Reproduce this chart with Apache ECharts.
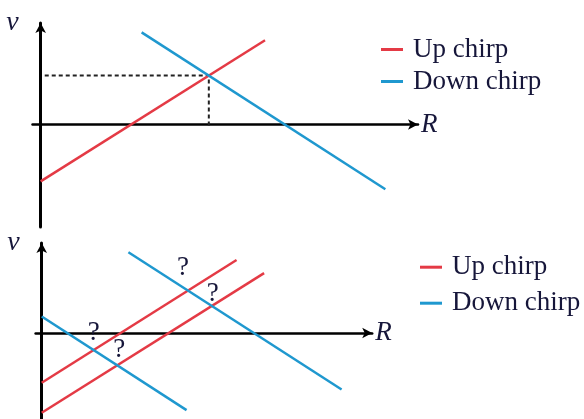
<!DOCTYPE html>
<html>
<head>
<meta charset="utf-8">
<script src="https://cdn.jsdelivr.net/npm/echarts@6/dist/echarts.min.js"></script>
<style>
  html, body { margin: 0; padding: 0; background: #fff; }
  #chart { width: 584px; height: 419px; }
</style>
</head>
<body>
<div id="chart"></div>
<script>
// Range–velocity sketch: one target (top) and two targets (bottom), FMCW up/down chirps.
const seriesNames = ['Up chirp', 'Down chirp'];

// Top panel: a single target
const upTop = [[0, -2.8], [11, 4.15]];
const downTop = [[4.95, 4.54], [16.9, -3.19]];

// Bottom panel: two targets -> two lines per chirp
const upBottomA = [[0, -2.46], [9.55, 3.61]];
const upBottomB = [[0, -3.94], [10.9, 2.96]];
const downBottomA = [[0, 0.82], [7.1, -3.81]];
const downBottomB = [[4.25, 3.99], [14.7, -2.79]];

const axisNames = { x: 'R', y: 'v' };
const ghostMark = '?';

const RED = '#e43a45';
const BLUE = '#1f98cf';
const INK = '#16163a';
const SERIF = '"Liberation Serif", "Times New Roman", serif';

// intersection of two straight segments (as infinite lines)
function cross(a, b) {
  const s1 = (a[1][1] - a[0][1]) / (a[1][0] - a[0][0]);
  const s2 = (b[1][1] - b[0][1]) / (b[1][0] - b[0][0]);
  const c1 = a[0][1] - s1 * a[0][0];
  const c2 = b[0][1] - s2 * b[0][0];
  const x = (c2 - c1) / (s1 - s2);
  return [x, s1 * x + c1];
}

function xAxisFor(gridIndex, min, max) {
  return {
    type: 'value', gridIndex, min, max,
    name: axisNames.x, nameLocation: 'end', nameGap: 3,
    nameTextStyle: { fontFamily: SERIF, fontStyle: 'italic', fontSize: 27, color: INK, padding: [7, 0, 0, 0] },
    axisLine: { show: true, onZero: true, lineStyle: { color: '#000', width: 2.5 }, symbol: ['none', 'arrow'], symbolSize: [8, 10] },
    axisTick: { show: false }, axisLabel: { show: false }, splitLine: { show: false }
  };
}
function yAxisFor(gridIndex, min, max, lift) {
  return {
    type: 'value', gridIndex, min, max,
    name: axisNames.y, nameLocation: 'end', nameGap: 0,
    nameTextStyle: { fontFamily: SERIF, fontStyle: 'italic', fontSize: 28, color: INK, align: 'right', verticalAlign: 'middle', padding: [0, 22, lift, 0] },
    axisLine: { show: true, onZero: true, lineStyle: { color: '#000', width: 3 }, symbol: ['none', 'arrow'], symbolSize: [8, 10] },
    axisTick: { show: false }, axisLabel: { show: false }, splitLine: { show: false }
  };
}
function chirp(name, data, color, idx) {
  return {
    type: 'line', name, data, xAxisIndex: idx, yAxisIndex: idx,
    showSymbol: false, silent: true, animation: false,
    lineStyle: { color, width: 2.5 }, itemStyle: { color }
  };
}

const meet = cross(upTop, downTop);
const guide = [[0.2, meet[1]], meet, [meet[0], -0.15]];

const marks = [
  { p: cross(upBottomA, downBottomB), off: [-5, -23] },
  { p: cross(upBottomB, downBottomB), off: [1, -12] },
  { p: cross(upBottomA, downBottomA), off: [0, -17] },
  { p: cross(upBottomB, downBottomA), off: [2, -15] }
];

const legendBase = {
  orient: 'vertical', padding: 0, data: seriesNames, icon: 'rect',
  itemWidth: 22, itemHeight: 3, selectedMode: false,
  textStyle: { fontFamily: SERIF, fontSize: 27, lineHeight: 26, color: INK, padding: [0, 0, 0, 5] }
};

const chart = echarts.init(document.getElementById('chart'), null, { renderer: 'canvas' });
chart.setOption({
  animation: false,
  backgroundColor: '#fff',
  grid: [
    { left: 32.5, top: 23, width: 385.5, height: 204 },
    { left: 35.6, top: 243, width: 336.6, height: 176.6 }
  ],
  xAxis: [xAxisFor(0, -0.4, 18.5), xAxisFor(1, -0.3, 16.2)],
  yAxis: [yAxisFor(0, -5.05, 5, 14), yAxisFor(1, -4.25, 4.45, 2)],
  legend: [
    Object.assign({}, legendBase, { left: 381, top: 36, itemGap: 5 }),
    Object.assign({}, legendBase, { left: 420, top: 253.7, itemGap: 9 })
  ],
  series: [
    {
      type: 'line', data: guide, xAxisIndex: 0, yAxisIndex: 0, showSymbol: false, silent: true,
      lineStyle: { color: '#222', width: 2, type: [4, 3] }, z: 1
    },
    chirp(seriesNames[0], upTop, RED, 0),
    chirp(seriesNames[1], downTop, BLUE, 0),
    chirp(seriesNames[0], upBottomA, RED, 1),
    chirp(seriesNames[0], upBottomB, RED, 1),
    chirp(seriesNames[1], downBottomA, BLUE, 1),
    chirp(seriesNames[1], downBottomB, BLUE, 1),
    {
      type: 'scatter', xAxisIndex: 1, yAxisIndex: 1, symbolSize: 0, silent: true, z: 5,
      itemStyle: { opacity: 1 },
      data: marks.map(m => ({
        value: m.p,
        label: {
          show: true, position: 'inside', formatter: ghostMark, offset: m.off,
          fontFamily: SERIF, fontSize: 27, color: INK, opacity: 1
        }
      }))
    }
  ]
});
</script>
</body>
</html>
